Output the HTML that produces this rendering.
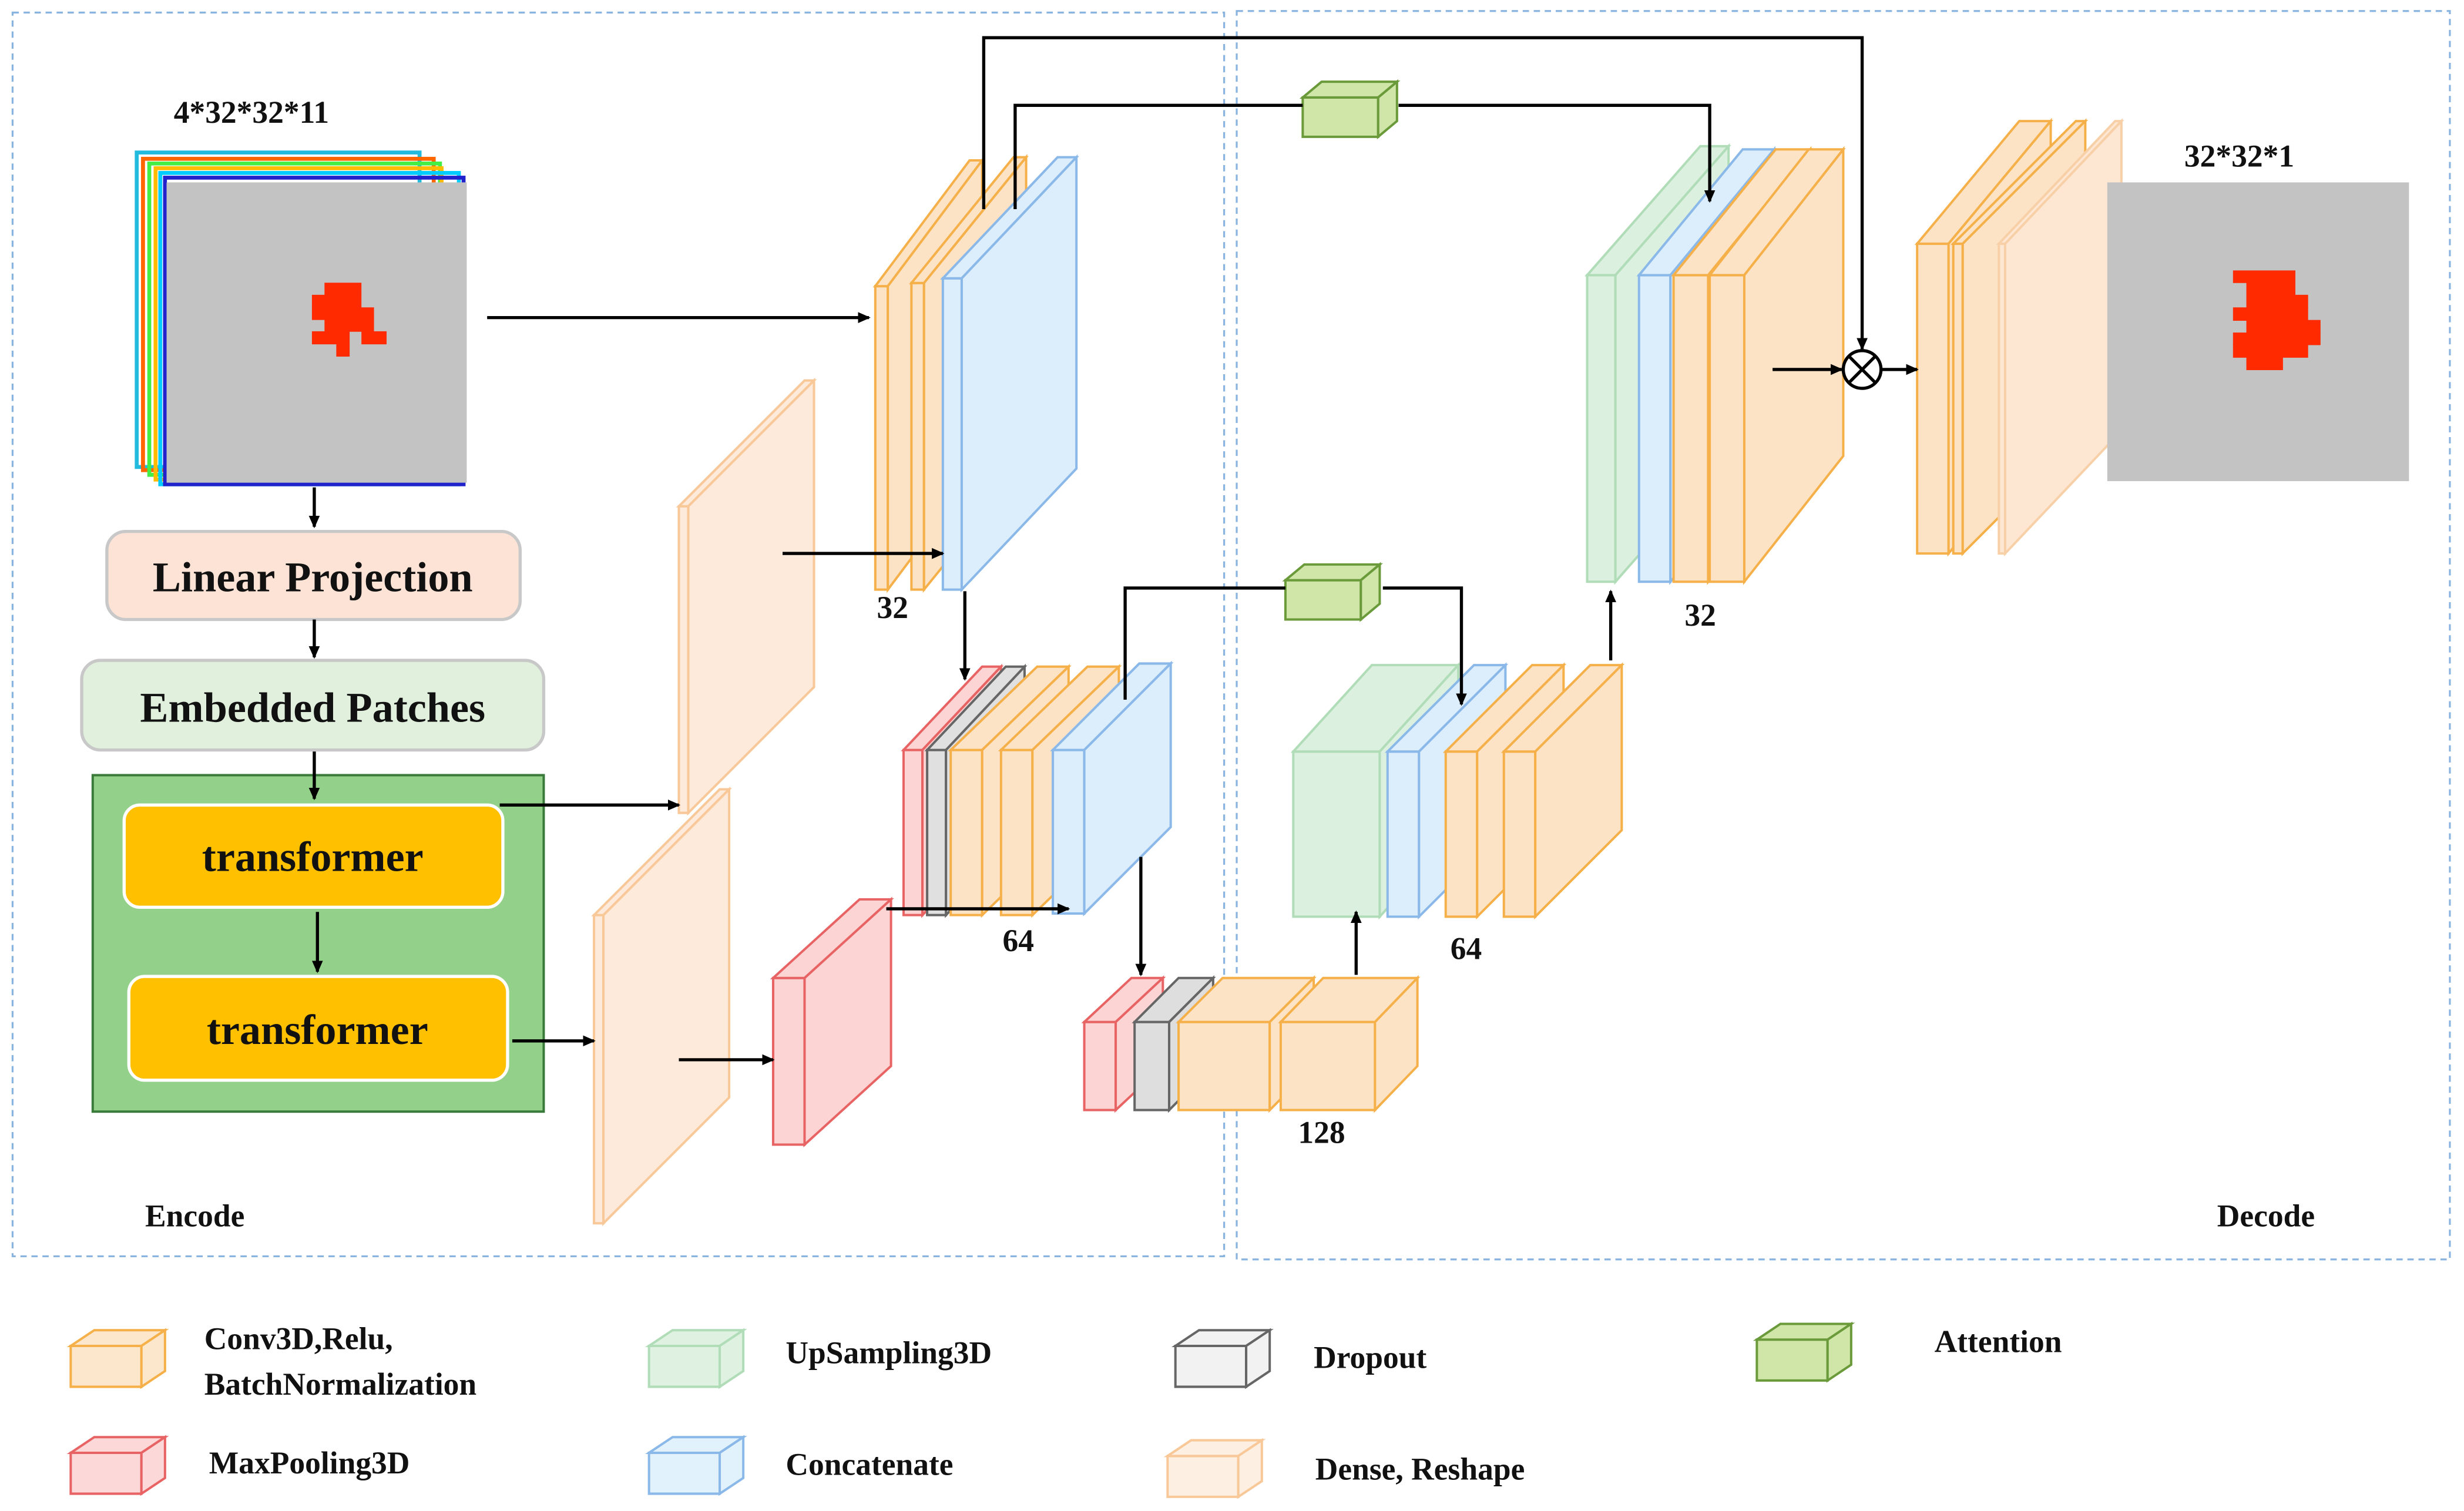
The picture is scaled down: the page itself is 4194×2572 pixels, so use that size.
<!DOCTYPE html>
<html><head><meta charset="utf-8"><style>
html,body{margin:0;padding:0;background:#fff}
svg{display:block}
text{font-family:"Liberation Serif",serif;font-weight:bold;fill:#111}
</style></head><body>
<svg width="4194" height="2572" viewBox="0 0 1568 961" preserveAspectRatio="none" xmlns="http://www.w3.org/2000/svg">
<defs>
<marker id="a" markerWidth="8" markerHeight="8" refX="7" refY="4" orient="auto" markerUnits="userSpaceOnUse"><path d="M0,0.5 L8,4 L0,7.5z" fill="#000"/></marker>
</defs>
<rect x="8" y="8" width="771" height="791" fill="none" stroke="#8ab4e0" stroke-width="1.2" stroke-dasharray="4,3"/>
<rect x="787" y="7" width="772" height="794" fill="none" stroke="#8ab4e0" stroke-width="1.2" stroke-dasharray="4,3"/>

<g stroke-width="2.5" fill="none">
<rect x="87" y="97" width="180" height="200" stroke="#2bd" />
<rect x="91" y="101" width="185" height="198" stroke="#f60"/>
<rect x="95" y="104" width="185" height="198" stroke="#4e4"/>
<rect x="99" y="107" width="182" height="198" stroke="#fb0"/>
<rect x="102" y="110" width="190" height="198" stroke="#0cf"/>
<rect x="105" y="113" width="190" height="195" stroke="#22c"/>
</g>
<rect x="106" y="116" width="191" height="191" fill="#c3c3c3"/>
<g fill="#ff2a00">
<rect x="206.5" y="179.8" width="23.5" height="8"/>
<rect x="198.5" y="187.5" width="31.5" height="8.5"/>
<rect x="198.5" y="195.5" width="39.5" height="8"/>
<rect x="206.5" y="203" width="31.5" height="8"/>
<rect x="198.5" y="210.7" width="24" height="8.3"/>
<rect x="230" y="210.7" width="16" height="8.3"/>
<rect x="214" y="218.7" width="8.5" height="8.1"/>
</g>
<text x="160" y="78" font-size="20" text-anchor="middle">4*32*32*11</text>

<rect x="68" y="338" width="263" height="56" rx="12" fill="#fde3d6" stroke="#c8c8c8" stroke-width="2"/>
<text x="199" y="376" font-size="27" text-anchor="middle">Linear Projection</text>
<rect x="52" y="420" width="294" height="57" rx="12" fill="#e0f0dc" stroke="#c8c8c8" stroke-width="2"/>
<text x="199" y="459" font-size="27" text-anchor="middle">Embedded Patches</text>
<rect x="59" y="493" width="287" height="214" fill="#93d18a" stroke="#3a7a3a" stroke-width="1.5"/>
<rect x="79" y="512" width="241" height="65" rx="10" fill="#ffc000" stroke="#fff" stroke-width="2"/>
<text x="199" y="554" font-size="27" text-anchor="middle">transformer</text>
<rect x="82" y="621" width="241" height="66" rx="10" fill="#ffc000" stroke="#fff" stroke-width="2"/>
<text x="202" y="664" font-size="27" text-anchor="middle">transformer</text>

<g stroke-width="1.5">
<g fill="#fdeadb" stroke="#f8c898">
<path d="M432,322h6v195h-6z"/><path d="M432,322l80,-80h6l-80,80z"/><path d="M438,322l80,-80v195l-80,80z"/>
<path d="M378,582h6v196h-6z"/><path d="M378,582l80,-80h6l-80,80z"/><path d="M384,582l80,-80v196l-80,80z"/>
</g>
<g fill="#fdd4d4" stroke="#e86464">
<path d="M492,622h20v106h-20z"/><path d="M492,622l55,-50h20l-55,50z"/><path d="M512,622l55,-50v106l-55,50z"/>
</g>
<g fill="#fde3c6" stroke="#f5b04a">
<path d="M557,182h8v193h-8z"/><path d="M557,182l60,-80h8l-60,80z"/><path d="M565,182l60,-80v193l-60,80z"/>
<path d="M580,180h8v195h-8z"/><path d="M580,180l65,-80h8l-65,80z"/><path d="M588,180l65,-80v195l-65,80z"/>
</g>
<g fill="#dcedfb" stroke="#8ab8e8">
<path d="M600,177h12v198h-12z"/><path d="M600,177l73,-77h12l-73,77z"/><path d="M612,177l73,-77v198l-73,77z"/>
</g>
<g fill="#fdd4d4" stroke="#e86464"><path d="M575,477h12v105h-12z"/><path d="M575,477l50,-53h12l-50,53z"/><path d="M587,477l50,-53v105l-50,53z"/></g>
<g fill="#e0e0e0" stroke="#666"><path d="M590,477h12v105h-12z"/><path d="M590,477l50,-53h12l-50,53z"/><path d="M602,477l50,-53v105l-50,53z"/></g>
<g fill="#fde3c6" stroke="#f5b04a">
<path d="M605,477h20v105h-20z"/><path d="M605,477l55,-53h20l-55,53z"/><path d="M625,477l55,-53v105l-55,53z"/>
<path d="M637,477h20v105h-20z"/><path d="M637,477l55,-53h20l-55,53z"/><path d="M657,477l55,-53v105l-55,53z"/>
</g>
<g fill="#dcedfb" stroke="#8ab8e8"><path d="M670,477h20v104h-20z"/><path d="M670,477l55,-55h20l-55,55z"/><path d="M690,477l55,-55v104l-55,55z"/></g>
<g fill="#fdd4d4" stroke="#e86464"><path d="M690,650h20v56h-20z"/><path d="M690,650l30,-28h20l-30,28z"/><path d="M710,650l30,-28v56l-30,28z"/></g>
<g fill="#dedede" stroke="#666"><path d="M722,650h22v56h-22z"/><path d="M722,650l28,-28h22l-28,28z"/><path d="M744,650l28,-28v56l-28,28z"/></g>
<g fill="#fde3c6" stroke="#f5b04a">
<path d="M750,650h58v56h-58z"/><path d="M750,650l28,-28h58l-28,28z"/><path d="M808,650l28,-28v56l-28,28z"/>
<path d="M815,650h60v56h-60z"/><path d="M815,650l27,-28h60l-27,28z"/><path d="M875,650l27,-28v56l-27,28z"/>
</g>
<g fill="#dcf0df" stroke="#b0dcb8"><path d="M823,478h55v105h-55z"/><path d="M823,478l50,-55h55l-50,55z"/><path d="M878,478l50,-55v105l-50,55z"/></g>
<g fill="#dcedfb" stroke="#8ab8e8"><path d="M883,478h20v105h-20z"/><path d="M883,478l55,-55h20l-55,55z"/><path d="M903,478l55,-55v105l-55,55z"/></g>
<g fill="#fde3c6" stroke="#f5b04a">
<path d="M920,478h20v105h-20z"/><path d="M920,478l55,-55h20l-55,55z"/><path d="M940,478l55,-55v105l-55,55z"/>
<path d="M957,478h20v105h-20z"/><path d="M957,478l55,-55h20l-55,55z"/><path d="M977,478l55,-55v105l-55,55z"/>
</g>
<g fill="#dcf0df" stroke="#b0dcb8"><path d="M1010,175h18v195h-18z"/><path d="M1010,175l72,-82h18l-72,82z"/><path d="M1028,175l72,-82v195l-72,82z"/></g>
<g fill="#dcedfb" stroke="#8ab8e8"><path d="M1043,175h20v195h-20z"/><path d="M1043,175l66,-80h20l-66,80z"/><path d="M1063,175l66,-80v195l-66,80z"/></g>
<g fill="#fde3c6" stroke="#f5b04a">
<path d="M1065,175h22v195h-22z"/><path d="M1065,175l65,-80h22l-65,80z"/><path d="M1087,175l65,-80v195l-65,80z"/>
<path d="M1088,175h22v195h-22z"/><path d="M1088,175l63,-80h22l-63,80z"/><path d="M1110,175l63,-80v195l-63,80z"/>
</g>
<g fill="#fde3c6" stroke="#f5b04a">
<path d="M1220,155h20v197h-20z"/><path d="M1220,155l65,-78h20l-65,78z"/><path d="M1240,155l65,-78v197l-65,78z"/>
<path d="M1243,155h6v197h-6z"/><path d="M1243,155l78,-78h6l-78,78z"/><path d="M1249,155l78,-78v197l-78,78z"/>
</g>
<g fill="#fde6d2" stroke="#f8d0a8"><path d="M1272,155h4v197h-4z"/><path d="M1272,155l74,-78h4l-74,78z"/><path d="M1276,155l74,-78v197l-74,78z"/></g>
<g fill="#cfe6a8" stroke="#6a9a3a">
<path d="M829,62h48v25h-48z"/><path d="M829,62l12,-10h48l-12,10z"/><path d="M877,62l12,-10v25l-12,10z"/>
<path d="M818,369h48v25h-48z"/><path d="M818,369l12,-10h48l-12,10z"/><path d="M866,369l12,-10v25l-12,10z"/>
</g>
</g>

<g stroke="#000" stroke-width="2" fill="none" marker-end="url(#a)">
<path d="M200,310V335"/><path d="M200,394V418"/><path d="M200,478V508"/><path d="M202,580V618"/>
<path d="M318,512H432"/><path d="M326,662H378"/><path d="M432,674H492"/>
<path d="M310,202H553"/><path d="M498,352H600"/>
<path d="M626,133V24H1185V222"/>
<path d="M890,67H1088V128"/>
<path d="M1128,235H1172"/><path d="M1197,235H1220"/>
<path d="M614,376V432"/>
<path d="M880,374H930V448"/>
<path d="M564,578H680"/>
<path d="M726,545V620"/>
<path d="M863,620V580"/>
<path d="M1025,420V376"/>
</g>
<g stroke="#000" stroke-width="2" fill="none">
<path d="M646,133V67H829"/>
<path d="M716,445V374H818"/>
</g>

<rect x="1341" y="116" width="192" height="190" fill="#c3c3c3"/>
<g fill="#ff2a00">
<rect x="1421" y="172" width="39.7" height="8"/>
<rect x="1429.5" y="179.5" width="31.2" height="8.5"/>
<rect x="1429.5" y="187.5" width="39.3" height="8.5"/>
<rect x="1421" y="195.5" width="47.8" height="8.5"/>
<rect x="1429.5" y="203.5" width="47.2" height="8.5"/>
<rect x="1421" y="211.5" width="55.7" height="8"/>
<rect x="1421" y="219" width="47.8" height="8.5"/>
<rect x="1429.5" y="227" width="23.3" height="8.4"/>
</g>
<text x="1425" y="106" font-size="20" text-anchor="middle">32*32*1</text>

<circle cx="1185" cy="235" r="12" fill="#fff" stroke="#000" stroke-width="2"/>
<path d="M1177,227l16,16M1193,227l-16,16" stroke="#000" stroke-width="2"/>

<text x="568" y="393" font-size="20" text-anchor="middle">32</text>
<text x="648" y="605" font-size="20" text-anchor="middle">64</text>
<text x="841" y="727" font-size="20" text-anchor="middle">128</text>
<text x="933" y="610" font-size="20" text-anchor="middle">64</text>
<text x="1082" y="398" font-size="20" text-anchor="middle">32</text>
<text x="124" y="780" font-size="20" text-anchor="middle">Encode</text>
<text x="1442" y="780" font-size="20" text-anchor="middle">Decode</text>

<g stroke-width="1.5">
<g fill="#fde7cc" stroke="#f5b04a"><path d="M45,856h45v26h-45z"/><path d="M45,856l15,-10h45l-15,10z"/><path d="M90,856l15,-10v26l-15,10z"/></g>
<g fill="#fdd8d8" stroke="#e86464"><path d="M45,924h45v26h-45z"/><path d="M45,924l15,-10h45l-15,10z"/><path d="M90,924l15,-10v26l-15,10z"/></g>
<g fill="#dff2e2" stroke="#b0dcb8"><path d="M413,856h45v26h-45z"/><path d="M413,856l15,-10h45l-15,10z"/><path d="M458,856l15,-10v26l-15,10z"/></g>
<g fill="#e2f2fc" stroke="#8ab8e8"><path d="M413,924h45v26h-45z"/><path d="M413,924l15,-10h45l-15,10z"/><path d="M458,924l15,-10v26l-15,10z"/></g>
<g fill="#f2f2f2" stroke="#666"><path d="M748,856h45v26h-45z"/><path d="M748,856l15,-10h45l-15,10z"/><path d="M793,856l15,-10v26l-15,10z"/></g>
<g fill="#fdf0e2" stroke="#f8c898"><path d="M743,926h45v26h-45z"/><path d="M743,926l15,-10h45l-15,10z"/><path d="M788,926l15,-10v26l-15,10z"/></g>
<g fill="#cfe6a8" stroke="#6a9a3a"><path d="M1118,852h45v26h-45z"/><path d="M1118,852l15,-10h45l-15,10z"/><path d="M1163,852l15,-10v26l-15,10z"/></g>
</g>
<text x="130" y="858" font-size="20">Conv3D,Relu,</text>
<text x="130" y="887" font-size="20">BatchNormalization</text>
<text x="133" y="937" font-size="20">MaxPooling3D</text>
<text x="500" y="867" font-size="20">UpSampling3D</text>
<text x="500" y="938" font-size="20">Concatenate</text>
<text x="836" y="870" font-size="20">Dropout</text>
<text x="837" y="941" font-size="20">Dense, Reshape</text>
<text x="1231" y="860" font-size="20">Attention</text>
</svg>
</body></html>
